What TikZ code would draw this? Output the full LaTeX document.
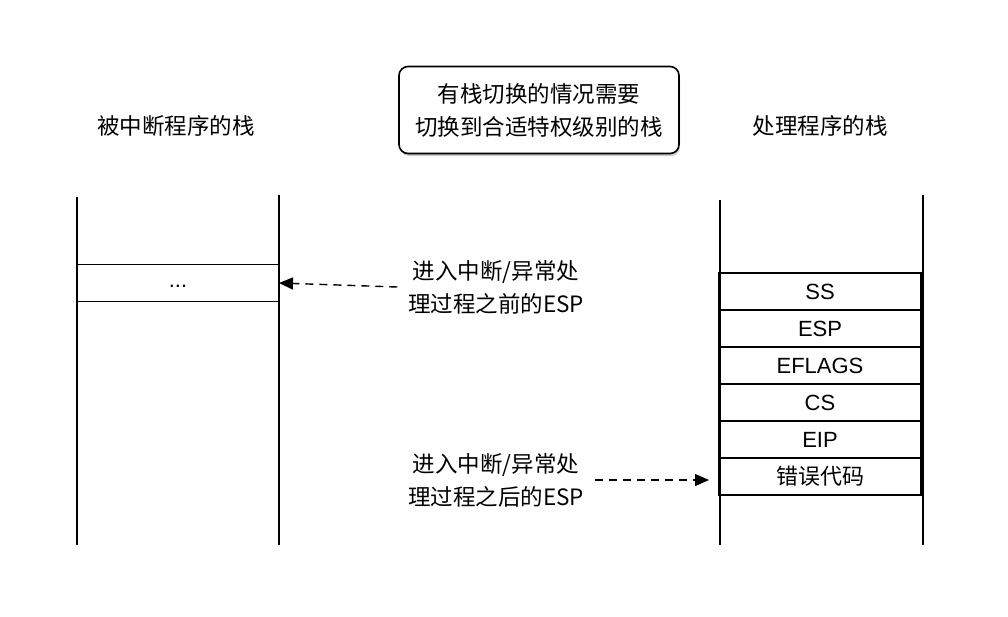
\documentclass[tikz,border=0pt]{standalone}
\usepackage{fontspec}
\setmainfont{Liberation Sans}
\newfontfamily\cjk{Noto Sans CJK SC}
\usetikzlibrary{shadows,arrows.meta}
\begin{document}
\begin{tikzpicture}[x=1pt,y=-1pt,
  line width=1.6pt,
  txt/.style={font=\cjk\fontsize{22.5}{33}\selectfont, align=center, inner sep=0pt},
  cell/.style={draw, minimum width=202pt, minimum height=37pt, inner sep=0pt, outer sep=0pt, font=\fontsize{22}{24}\selectfont},
  dasharrow/.style={draw, line width=1.4pt, dash pattern=on 8pt off 6pt, -{Triangle[length=14pt,width=12pt]}}]
\useasboundingbox (0,0) rectangle (1008,616);
% titles
\node[txt] (lt) at (176,126) {被中断程序的栈};
\node[txt] (rt) at (820,126) {处理程序的栈};
\node[draw, rounded corners=9pt, minimum width=280pt, minimum height=87pt, fill=white,
  drop shadow={shadow xshift=1pt, shadow yshift=-2.5pt, opacity=0.4}, txt, line width=1.6pt] (title) at (539,110)
  {有栈切换的情况需要\\切换到合适特权级别的栈};
% left stack
\coordinate (l1a) at (77,197); \coordinate (l1b) at (77,545);
\coordinate (l2a) at (279,195); \coordinate (l2b) at (279,545);
\draw (l1a) -- (l1b);
\draw (l2a) -- (l2b);
\node[cell] (dots) at (178,283) {};
\node[font=\fontsize{22}{24}\selectfont, inner sep=0pt] (dotstxt) at (178,286) {...};
% right stack
\coordinate (r1a) at (720,200); \coordinate (r1b) at (720,545);
\coordinate (r2a) at (923,195); \coordinate (r2b) at (923,545);
\draw (r1a) -- (r1b);
\draw (r2a) -- (r2b);
\node[cell] (ss) at (820,291.5) {SS};
\node[cell, anchor=north] (esp) at (ss.south) {ESP};
\node[cell, anchor=north] (efl) at (esp.south) {EFLAGS};
\node[cell, anchor=north] (cs) at (efl.south) {CS};
\node[cell, anchor=north] (eip) at (cs.south) {EIP};
\node[cell, anchor=north, font=\cjk\fontsize{22}{24}\selectfont] (err) at (eip.south) {错误代码};
% labels
\node[txt] (lab1) at (496,287) {进入中断/异常处\\理过程之前的ESP};
\node[txt] (lab2) at (496,480) {进入中断/异常处\\理过程之后的ESP};
\draw[dasharrow] (lab1.west) ++(-10,0) coordinate (a1s) -- (dots.east);
\draw[dasharrow] (lab2.east) ++(10,0) coordinate (a2s) -- ([xshift=-10pt]err.west |- lab2.east);
\end{tikzpicture}
\end{document}
